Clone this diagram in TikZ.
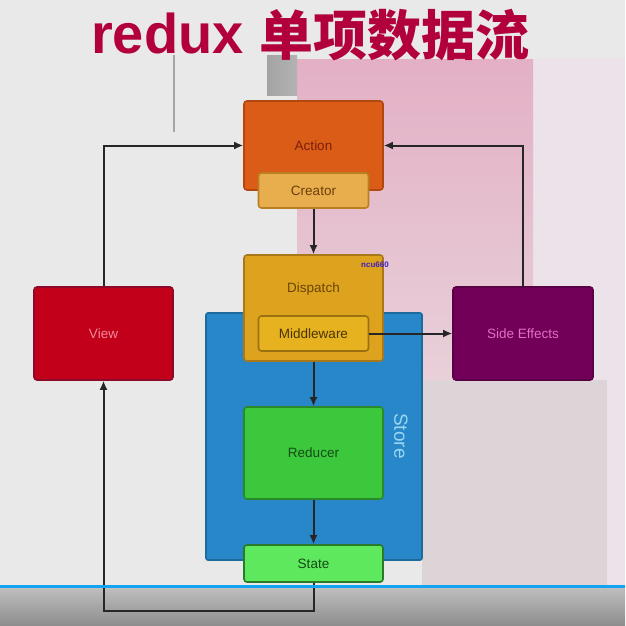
\documentclass[tikz,border=0pt]{standalone}
\usepackage{fontspec}
\setmainfont{Liberation Sans}
\newfontfamily\cjkfont{Noto Sans CJK SC}
\usetikzlibrary{arrows.meta}
\definecolor{bgc}{HTML}{E9E9E9}
\definecolor{lav}{HTML}{ECE2EA}
\definecolor{pinkA}{HTML}{E3B0C5}
\definecolor{pinkB}{HTML}{E8D0D9}
\definecolor{grpk}{HTML}{DDD4D8}
\definecolor{titlec}{HTML}{B2003C}
\definecolor{actf}{HTML}{DA5C17}\definecolor{actd}{HTML}{B04810}\definecolor{actt}{HTML}{7A200A}
\definecolor{crf}{HTML}{E8AE4E}\definecolor{crd}{HTML}{B88020}\definecolor{crt}{HTML}{6A3E0C}
\definecolor{dif}{HTML}{DDA31E}\definecolor{did}{HTML}{A8781A}\definecolor{dit}{HTML}{6A4406}
\definecolor{mwf}{HTML}{E6B220}\definecolor{mwd}{HTML}{9A7010}\definecolor{mwt}{HTML}{4A3406}
\definecolor{stf}{HTML}{2787C8}\definecolor{std}{HTML}{1D6A9C}\definecolor{stt}{HTML}{9AD6F2}
\definecolor{ref}{HTML}{3CC83C}\definecolor{red}{HTML}{2A8A2A}\definecolor{grt}{HTML}{164A16}
\definecolor{saf}{HTML}{5EE85E}\definecolor{sad}{HTML}{2A7A2A}
\definecolor{vif}{HTML}{C2001A}\definecolor{vid}{HTML}{8E0A2A}\definecolor{vit}{HTML}{F08A9A}
\definecolor{sef}{HTML}{730058}\definecolor{sed}{HTML}{5A0045}\definecolor{set}{HTML}{E070C0}
\definecolor{ncuc}{HTML}{4020C0}
\definecolor{linec}{HTML}{262626}
\definecolor{progc}{HTML}{12A4F2}
\tikzset{
  box/.style={draw, line width=1.6pt, rounded corners=3pt, inner sep=0pt,
    font=\fontsize{13.5}{15}\selectfont},
  conn/.style={draw=linec, line width=2pt, -{Latex[length=9pt,width=8pt]}},
}
\begin{document}
\begin{tikzpicture}[x=1pt,y=-1pt]
% background
\fill[bgc] (0,0) rectangle (625,626);
\useasboundingbox (0,0) rectangle (625,626);
\fill[lav] (533,58) rectangle (625,585);
\fill[grpk] (422,380) rectangle (607,585);
\shade[top color=pinkA, bottom color=pinkB] (297,60) rectangle (533,380);
\fill[pinkB] (383,380) rectangle (422,560);
\shade[left color=black!36, right color=black!30] (267,56) rectangle (297,95);
\draw[black!35, line width=2pt] (174,55) -- (174,132);
\shade[top color=black!25, bottom color=black!45] (0,587) rectangle (625,626);
% title
\node[anchor=base west, inner sep=0pt, text=titlec, font=\fontsize{56}{60}\selectfont\bfseries] (tA) at (91,54) {redux};
\node[anchor=base west, inner sep=0pt, text=titlec, font=\cjkfont\fontsize{54}{60}\selectfont\bfseries] (tB) at (259,56) {单项数据流};
% store
\node[draw=std, fill=stf, line width=1.6pt, rounded corners=2pt, minimum width=216pt, minimum height=247pt, inner sep=0pt] (store) at (314,436.5) {};
\node[rotate=-90, text=stt, font=\fontsize{19}{21}\selectfont, inner sep=0pt] (storelbl) at (401,436) {Store};
% boxes
\node[box, draw=actd, fill=actf, text=actt, minimum width=139pt, minimum height=89pt] (action) at (313.5,145.5) {Action};
\node[box, draw=crd, fill=crf, text=crt, minimum width=110pt, minimum height=35pt] (creator) at (313.5,190.5) {Creator};
\node[box, draw=did, fill=dif, minimum width=139pt, minimum height=106pt] (dispatch) at (313.5,308) {};
\node[text=dit, font=\fontsize{13.5}{15}\selectfont, inner sep=0pt] (displbl) at (313.5,289) {Dispatch};
\node[box, draw=mwd, fill=mwf, text=mwt, minimum width=110pt, minimum height=35pt] (middle) at (313.5,333.5) {Middleware};
\node[text=ncuc, font=\fontsize{8}{9}\selectfont\bfseries, inner sep=0pt] (ncu) at (375,265) {ncu660};
\node[box, draw=red, fill=ref, text=grt, minimum width=139pt, minimum height=92pt] (reducer) at (313.5,453) {Reducer};
\node[box, draw=sad, fill=saf, text=grt, minimum width=139pt, minimum height=37pt] (state) at (313.5,563.5) {State};
\node[box, draw=vid, fill=vif, text=vit, minimum width=139pt, minimum height=93pt] (view) at (103.5,333.5) {View};
\node[box, draw=sed, fill=sef, text=set, minimum width=140pt, minimum height=93pt] (side) at (523,333.5) {Side Effects};
% connectors
\coordinate (sv) at (313.5,611);
\draw[conn] (creator.south) -- (dispatch.north);
\draw[conn] (dispatch.south) -- (reducer.north);
\draw[conn] (reducer.south) -- (state.north);
\draw[conn] (middle.east) -- (side.west);
\draw[conn] (side.north) |- (action.east);
\draw[conn] (view.north) |- (action.west);
\draw[conn] (state.south) -- (sv) -| (view.south);
% progress bar
\draw[progc, line width=3pt] (0,586) -- (625,586);
\end{tikzpicture}
\end{document}
